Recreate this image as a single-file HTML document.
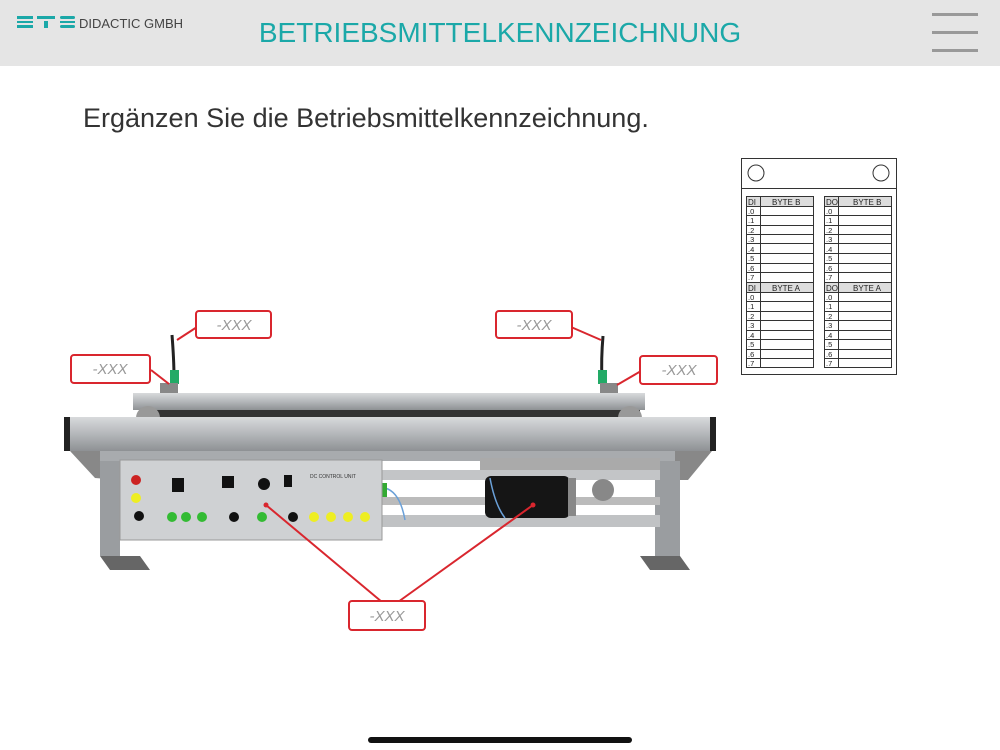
<!DOCTYPE html>
<html><head><meta charset="utf-8"><style>
body{margin:0;width:1000px;height:750px;background:#fff;overflow:hidden;position:relative;font-family:"Liberation Sans",sans-serif}
.hdr{position:absolute;left:0;top:0;width:1000px;height:66px;background:#e5e5e5}
</style></head><body>
<div class="hdr"></div>
<svg width="1000" height="750" style="position:absolute;left:0;top:0" font-family="Liberation Sans, sans-serif">
<!-- logo -->
<g fill="#1ba8a8">
<rect x="17" y="16" width="16" height="3"/><rect x="17" y="21" width="16" height="2"/><rect x="17" y="25" width="16" height="3"/>
<rect x="37" y="16" width="18" height="3"/><rect x="44" y="21" width="4" height="7"/>
<rect x="60" y="16" width="15" height="3" rx="1.5"/><rect x="60" y="21" width="15" height="2"/><rect x="60" y="25" width="15" height="3" rx="1.5"/>
</g>
<text x="79" y="28" font-size="13" fill="#444">DIDACTIC GMBH</text>
<text x="500" y="42" font-size="28" fill="#1ba8a8" text-anchor="middle">BETRIEBSMITTELKENNZEICHNUNG</text>
<g fill="#999"><rect x="932" y="13" width="46" height="3"/><rect x="932" y="31" width="46" height="3"/><rect x="932" y="49" width="46" height="3"/></g>
<text x="83" y="127" font-size="27" fill="#333">Ergänzen Sie die Betriebsmittelkennzeichnung.</text>
<!-- table -->
<g stroke="#333" fill="none" stroke-width="1">
<rect x="741.5" y="158.5" width="155" height="216"/>
<line x1="741" y1="188.5" x2="897" y2="188.5"/>
<circle cx="756" cy="173" r="8"/><circle cx="881" cy="173" r="8"/>
</g>
<g font-size="8" fill="#222">
<g id="tL">
<rect x="746.5" y="196.5" width="67" height="171" fill="#fff" stroke="#333"/>
<rect x="746.5" y="196.5" width="67" height="10" fill="#ddd" stroke="#333"/>
<rect x="746.5" y="282.5" width="67" height="10" fill="#ddd" stroke="#333"/>
<line x1="760.5" y1="196" x2="760.5" y2="368" stroke="#333"/>
</g>
<g stroke="#333">
<line x1="746" y1="215.5" x2="814" y2="215.5"/><line x1="746" y1="225.5" x2="814" y2="225.5"/><line x1="746" y1="234.5" x2="814" y2="234.5"/><line x1="746" y1="243.5" x2="814" y2="243.5"/><line x1="746" y1="253.5" x2="814" y2="253.5"/><line x1="746" y1="263.5" x2="814" y2="263.5"/><line x1="746" y1="272.5" x2="814" y2="272.5"/>
<line x1="746" y1="301.5" x2="814" y2="301.5"/><line x1="746" y1="311.5" x2="814" y2="311.5"/><line x1="746" y1="320.5" x2="814" y2="320.5"/><line x1="746" y1="330.5" x2="814" y2="330.5"/><line x1="746" y1="339.5" x2="814" y2="339.5"/><line x1="746" y1="349.5" x2="814" y2="349.5"/><line x1="746" y1="358.5" x2="814" y2="358.5"/>
</g>
<use href="#tL" x="78"/>
<g stroke="#333" transform="translate(78,0)">
<line x1="746" y1="215.5" x2="814" y2="215.5"/><line x1="746" y1="225.5" x2="814" y2="225.5"/><line x1="746" y1="234.5" x2="814" y2="234.5"/><line x1="746" y1="243.5" x2="814" y2="243.5"/><line x1="746" y1="253.5" x2="814" y2="253.5"/><line x1="746" y1="263.5" x2="814" y2="263.5"/><line x1="746" y1="272.5" x2="814" y2="272.5"/>
<line x1="746" y1="301.5" x2="814" y2="301.5"/><line x1="746" y1="311.5" x2="814" y2="311.5"/><line x1="746" y1="320.5" x2="814" y2="320.5"/><line x1="746" y1="330.5" x2="814" y2="330.5"/><line x1="746" y1="339.5" x2="814" y2="339.5"/><line x1="746" y1="349.5" x2="814" y2="349.5"/><line x1="746" y1="358.5" x2="814" y2="358.5"/>
</g>
<text x="748" y="205">DI</text><text x="772" y="205">BYTE B</text><text x="826" y="205">DO</text><text x="853" y="205">BYTE B</text>
<text x="748" y="291">DI</text><text x="772" y="291">BYTE A</text><text x="826" y="291">DO</text><text x="853" y="291">BYTE A</text>
<g font-size="7.5">
<text x="748" y="214">.0</text><text x="748" y="223">.1</text><text x="748" y="233">.2</text><text x="748" y="242">.3</text><text x="748" y="252">.4</text><text x="748" y="261">.5</text><text x="748" y="271">.6</text><text x="748" y="280">.7</text>
<text x="748" y="300">.0</text><text x="748" y="309">.1</text><text x="748" y="319">.2</text><text x="748" y="328">.3</text><text x="748" y="338">.4</text><text x="748" y="347">.5</text><text x="748" y="357">.6</text><text x="748" y="366">.7</text>
<text x="826" y="214">.0</text><text x="826" y="223">.1</text><text x="826" y="233">.2</text><text x="826" y="242">.3</text><text x="826" y="252">.4</text><text x="826" y="261">.5</text><text x="826" y="271">.6</text><text x="826" y="280">.7</text>
<text x="826" y="300">.0</text><text x="826" y="309">.1</text><text x="826" y="319">.2</text><text x="826" y="328">.3</text><text x="826" y="338">.4</text><text x="826" y="347">.5</text><text x="826" y="357">.6</text><text x="826" y="366">.7</text>
</g>
</g>
<!-- machine -->
<defs><linearGradient id="al" x1="0" y1="0" x2="0" y2="1"><stop offset="0" stop-color="#d8dadc"/><stop offset=".5" stop-color="#b4b7ba"/><stop offset="1" stop-color="#8e9194"/></linearGradient></defs>
<rect x="133" y="393" width="512" height="17" fill="url(#al)"/>
<rect x="140" y="410" width="500" height="8" fill="#333"/>
<circle cx="148" cy="418" r="12" fill="#999"/><circle cx="630" cy="418" r="12" fill="#999"/>
<rect x="64" y="417" width="652" height="34" fill="url(#al)"/>
<rect x="64" y="417" width="6" height="34" fill="#222"/><rect x="710" y="417" width="6" height="34" fill="#222"/>
<polygon points="70,451 120,451 120,480 95,478" fill="#888"/>
<polygon points="660,451 712,451 688,480 660,480" fill="#888"/>
<rect x="100" y="451" width="575" height="10" fill="#a8abae"/>
<rect x="100" y="461" width="20" height="95" fill="#9a9da0"/><rect x="655" y="461" width="25" height="95" fill="#9a9da0"/>
<polygon points="100,556 140,556 150,570 110,570" fill="#666"/><polygon points="640,556 680,556 690,570 650,570" fill="#666"/>
<rect x="380" y="470" width="280" height="10" fill="#c3c5c7"/>
<rect x="380" y="497" width="280" height="8" fill="#bbb"/>
<rect x="380" y="515" width="280" height="12" fill="#c0c2c4"/>
<rect x="480" y="458" width="180" height="12" fill="#aaa"/>
<rect x="485" y="476" width="85" height="42" rx="6" fill="#151515"/>
<rect x="568" y="478" width="8" height="38" fill="#888"/>
<circle cx="603" cy="490" r="11" fill="#888"/>
<path d="M385,488 Q400,492 405,520" stroke="#6aa0d8" fill="none" stroke-width="1.5"/>
<path d="M490,478 Q495,505 505,518" stroke="#6aa0d8" fill="none" stroke-width="1.5"/>
<rect x="379" y="483" width="8" height="14" fill="#3a3"/>
<rect x="120" y="460" width="262" height="80" fill="#cfd1d3" stroke="#999"/>
<text x="310" y="478" font-size="5" fill="#333">DC CONTROL UNIT</text>
<circle cx="136" cy="480" r="5" fill="#c22"/><circle cx="136" cy="498" r="5" fill="#ee2"/><circle cx="139" cy="516" r="5" fill="#111"/>
<rect x="172" y="478" width="12" height="14" fill="#111"/><rect x="222" y="476" width="12" height="12" fill="#111"/>
<circle cx="264" cy="484" r="6" fill="#111"/><rect x="284" y="475" width="8" height="12" fill="#111"/>
<circle cx="172" cy="517" r="5" fill="#3b3"/><circle cx="186" cy="517" r="5" fill="#3b3"/><circle cx="202" cy="517" r="5" fill="#3b3"/>
<circle cx="234" cy="517" r="5" fill="#111"/><circle cx="262" cy="517" r="5" fill="#3b3"/><circle cx="293" cy="517" r="5" fill="#111"/>
<circle cx="314" cy="517" r="5" fill="#ee2"/><circle cx="331" cy="517" r="5" fill="#ee2"/><circle cx="348" cy="517" r="5" fill="#ee2"/><circle cx="365" cy="517" r="5" fill="#ee2"/>
<!-- sensors -->
<path d="M172,335 Q174,360 174,378" stroke="#222" stroke-width="3" fill="none"/><rect x="170" y="370" width="9" height="14" fill="#2a6"/><rect x="160" y="383" width="18" height="10" fill="#888"/>
<path d="M603,336 Q601,360 602,378" stroke="#222" stroke-width="3" fill="none"/><rect x="598" y="370" width="9" height="14" fill="#2a6"/><rect x="600" y="383" width="18" height="10" fill="#888"/>
<!-- callouts -->
<g stroke="#d9262e" stroke-width="2" fill="none">
<line x1="197" y1="327" x2="177" y2="340"/><line x1="151" y1="370" x2="169" y2="384"/>
<line x1="571" y1="327" x2="601" y2="340"/><line x1="641" y1="371" x2="617" y2="385"/>
<line x1="382" y1="602" x2="266" y2="505"/><line x1="398" y1="602" x2="533" y2="505"/>
<rect x="196" y="311" width="75" height="27" rx="3" fill="#fff"/>
<rect x="71" y="355" width="79" height="28" rx="3" fill="#fff"/>
<rect x="496" y="311" width="76" height="27" rx="3" fill="#fff"/>
<rect x="640" y="356" width="77" height="28" rx="3" fill="#fff"/>
<rect x="349" y="601" width="76" height="29" rx="3" fill="#fff"/>
</g>
<circle cx="266" cy="505" r="2.5" fill="#d9262e"/><circle cx="533" cy="505" r="2.5" fill="#d9262e"/>
<g font-size="15" fill="#999" font-style="italic" text-anchor="middle">
<text x="234" y="330">-XXX</text><text x="110" y="374">-XXX</text><text x="534" y="330">-XXX</text><text x="679" y="375">-XXX</text><text x="387" y="621">-XXX</text>
</g>
<rect x="368" y="737" width="264" height="6" rx="3" fill="#111"/>
</svg>
</body></html>
